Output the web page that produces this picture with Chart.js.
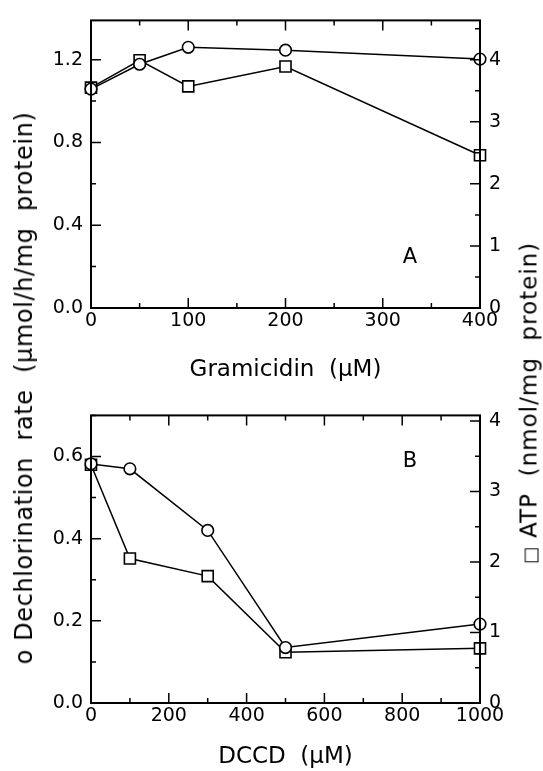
<!DOCTYPE html>
<html>
<head>
<meta charset="utf-8">
<script src="https://cdn.jsdelivr.net/npm/chart.js@4.4.1/dist/chart.umd.min.js"></script>
<style>
  html, body { margin: 0; padding: 0; background: #fff; }
  #fig { position: relative; width: 543px; height: 771px; overflow: hidden; font-family: "DejaVu Sans", sans-serif; color: #000; }
  #fig canvas { position: absolute; left: 0; }
  .lbl { position: absolute; white-space: pre; line-height: 1; transform: translate(-50%, -50%); }
  .vt { transform: translate(-50%, -50%) rotate(-90deg); letter-spacing: 0.6px; }
</style>
</head>
<body>
<div id="fig">
  <canvas id="chartA" width="543" height="395" style="top:0"></canvas>
  <canvas id="chartB" width="543" height="376" style="top:395px"></canvas>
  <div class="lbl vt" style="left:23.5px; top:388px; font-size:24px;">o Dechlorination  rate  (µmol/h/mg  protein)</div>
  <div class="lbl vt" style="left:529px; top:403px; font-size:23px; letter-spacing:1px;"><span style="font-size:18px">□</span> ATP  (nmol/mg  protein)</div>
  <div class="lbl" style="left:410px; top:256px; font-size:21px;">A</div>
  <div class="lbl" style="left:410px; top:460px; font-size:21px;">B</div>
</div>
<script>
// panel A: gramicidin
const gramicidin = [0, 50, 100, 200, 400];
const dechlorA = [1.058, 1.178, 1.26, 1.246, 1.203];
const atpA = [3.55, 3.99, 3.57, 3.89, 2.46];

// panel B: DCCD
const dccd = [0, 100, 300, 500, 1000];
const dechlorB = [0.582, 0.570, 0.420, 0.135, 0.192];
const atpB = [3.38, 2.05, 1.80, 0.72, 0.775];

// tick labels
const xTicksA = [0, 100, 200, 300, 400];
const yTicksA = [0, 0.4, 0.8, 1.2];
const y2TicksA = [0, 1, 2, 3, 4];
const xTicksB = [0, 200, 400, 600, 800, 1000];
const yTicksB = [0, 0.2, 0.4, 0.6];
const y2TicksB = [0, 1, 2, 3, 4];

const tickFont = { family: "DejaVu Sans", size: 19 };
const titleFont = { family: "DejaVu Sans", size: 23 };

function fixTicks(values) {
  return (scale) => {
    scale.ticks = values.map((v) => ({ value: v }));
  };
}

// box round the plot + inward tick marks on all four sides
const frame = {
  id: "frame",
  afterDatasetsDraw(chart, args, opts) {
    const { ctx, chartArea: a, scales } = chart;
    const marks = (scale, step, major, draw) => {
      const n = Math.round((scale.max - scale.min) / step);
      for (let i = 0; i <= n; i++) {
        const v = scale.min + i * step;
        if (v > scale.max + 1e-9) break;
        const p = scale.getPixelForValue(v);
        const isMajor = Math.abs(v / major - Math.round(v / major)) < 1e-6;
        draw(p, isMajor ? 10 : 5);
      }
    };
    ctx.save();
    ctx.strokeStyle = "#000";
    ctx.lineWidth = 1.5;
    ctx.beginPath();
    marks(scales.x, opts.x[0], opts.x[1], (p, len) => {
      ctx.moveTo(p, a.bottom);
      ctx.lineTo(p, a.bottom - len);
      ctx.moveTo(p, a.top);
      ctx.lineTo(p, a.top + len);
    });
    marks(scales.y, opts.y[0], opts.y[1], (p, len) => {
      ctx.moveTo(a.left, p);
      ctx.lineTo(a.left + len, p);
    });
    marks(scales.y2, opts.y2[0], opts.y2[1], (p, len) => {
      ctx.moveTo(a.right, p);
      ctx.lineTo(a.right - len, p);
    });
    ctx.stroke();
    ctx.lineWidth = 2;
    ctx.strokeRect(a.left, a.top, a.right - a.left, a.bottom - a.top);
    ctx.restore();
  },
};

function panel(id, xs, circles, squares, cfg) {
  const pts = (ys) => xs.map((x, i) => ({ x: x, y: ys[i] }));
  const common = {
    borderColor: "#000",
    borderWidth: 1.5,
    pointBackgroundColor: "#fff",
    pointBorderColor: "#000",
    pointBorderWidth: 1.6,
    tension: 0,
    clip: false,
  };
  return new Chart(document.getElementById(id), {
    type: "line",
    plugins: [frame],
    data: {
      datasets: [
        Object.assign({ data: pts(circles), yAxisID: "y", pointStyle: "circle", pointRadius: 5.8 }, common),
        Object.assign({ data: pts(squares), yAxisID: "y2", pointStyle: "rect", pointRadius: 7.8 }, common),
      ],
    },
    options: {
      responsive: false,
      animation: false,
      events: [],
      layout: { padding: { top: cfg.top, left: 0, right: 0, bottom: 0 } },
      plugins: {
        legend: { display: false },
        tooltip: { enabled: false },
        frame: cfg.marks,
      },
      scales: {
        x: {
          type: "linear",
          position: "bottom",
          min: 0,
          max: cfg.xMax,
          afterBuildTicks: fixTicks(cfg.xTicks),
          afterFit: (s) => { s.height = cfg.xHeight; },
          grid: { display: false, drawTicks: false },
          border: { display: false },
          ticks: { font: tickFont, color: "#000", padding: 2, maxRotation: 0, autoSkip: false, callback: (v) => String(v) },
          title: { display: true, text: cfg.xTitle, font: titleFont, color: "#000", padding: { top: 0, bottom: cfg.titlePad } },
        },
        y: {
          type: "linear",
          position: "left",
          min: 0,
          max: cfg.yMax,
          afterBuildTicks: fixTicks(cfg.yTicks),
          afterFit: (s) => { s.width = 91; },
          grid: { display: false, drawTicks: false },
          border: { display: false },
          ticks: { font: tickFont, color: "#000", padding: 8, callback: (v) => v.toFixed(1) },
        },
        y2: {
          type: "linear",
          position: "right",
          min: 0,
          max: cfg.y2Max,
          afterBuildTicks: fixTicks(cfg.y2Ticks),
          afterFit: (s) => { s.width = 63; },
          grid: { display: false, drawTicks: false },
          border: { display: false },
          ticks: { font: tickFont, color: "#000", padding: 9, callback: (v) => String(v) },
        },
      },
    },
  });
}

panel("chartA", gramicidin, dechlorA, atpA, {
  top: 14, xHeight: 87, titlePad: 11,
  xMax: 400, yMax: 1.39, y2Max: 1.39 / 0.3,
  xTicks: xTicksA, yTicks: yTicksA, y2Ticks: y2TicksA,
  xTitle: "Gramicidin  (µM)",
  marks: { x: [50, 100], y: [0.2, 0.4], y2: [0.5, 1] },
});

panel("chartB", dccd, dechlorB, atpB, {
  top: 13, xHeight: 68, titlePad: 0,
  xMax: 1000, yMax: 0.7, y2Max: 4.08,
  xTicks: xTicksB, yTicks: yTicksB, y2Ticks: y2TicksB,
  xTitle: "DCCD  (µM)",
  marks: { x: [100, 200], y: [0.1, 0.2], y2: [0.5, 1] },
});
</script>
</body>
</html>
